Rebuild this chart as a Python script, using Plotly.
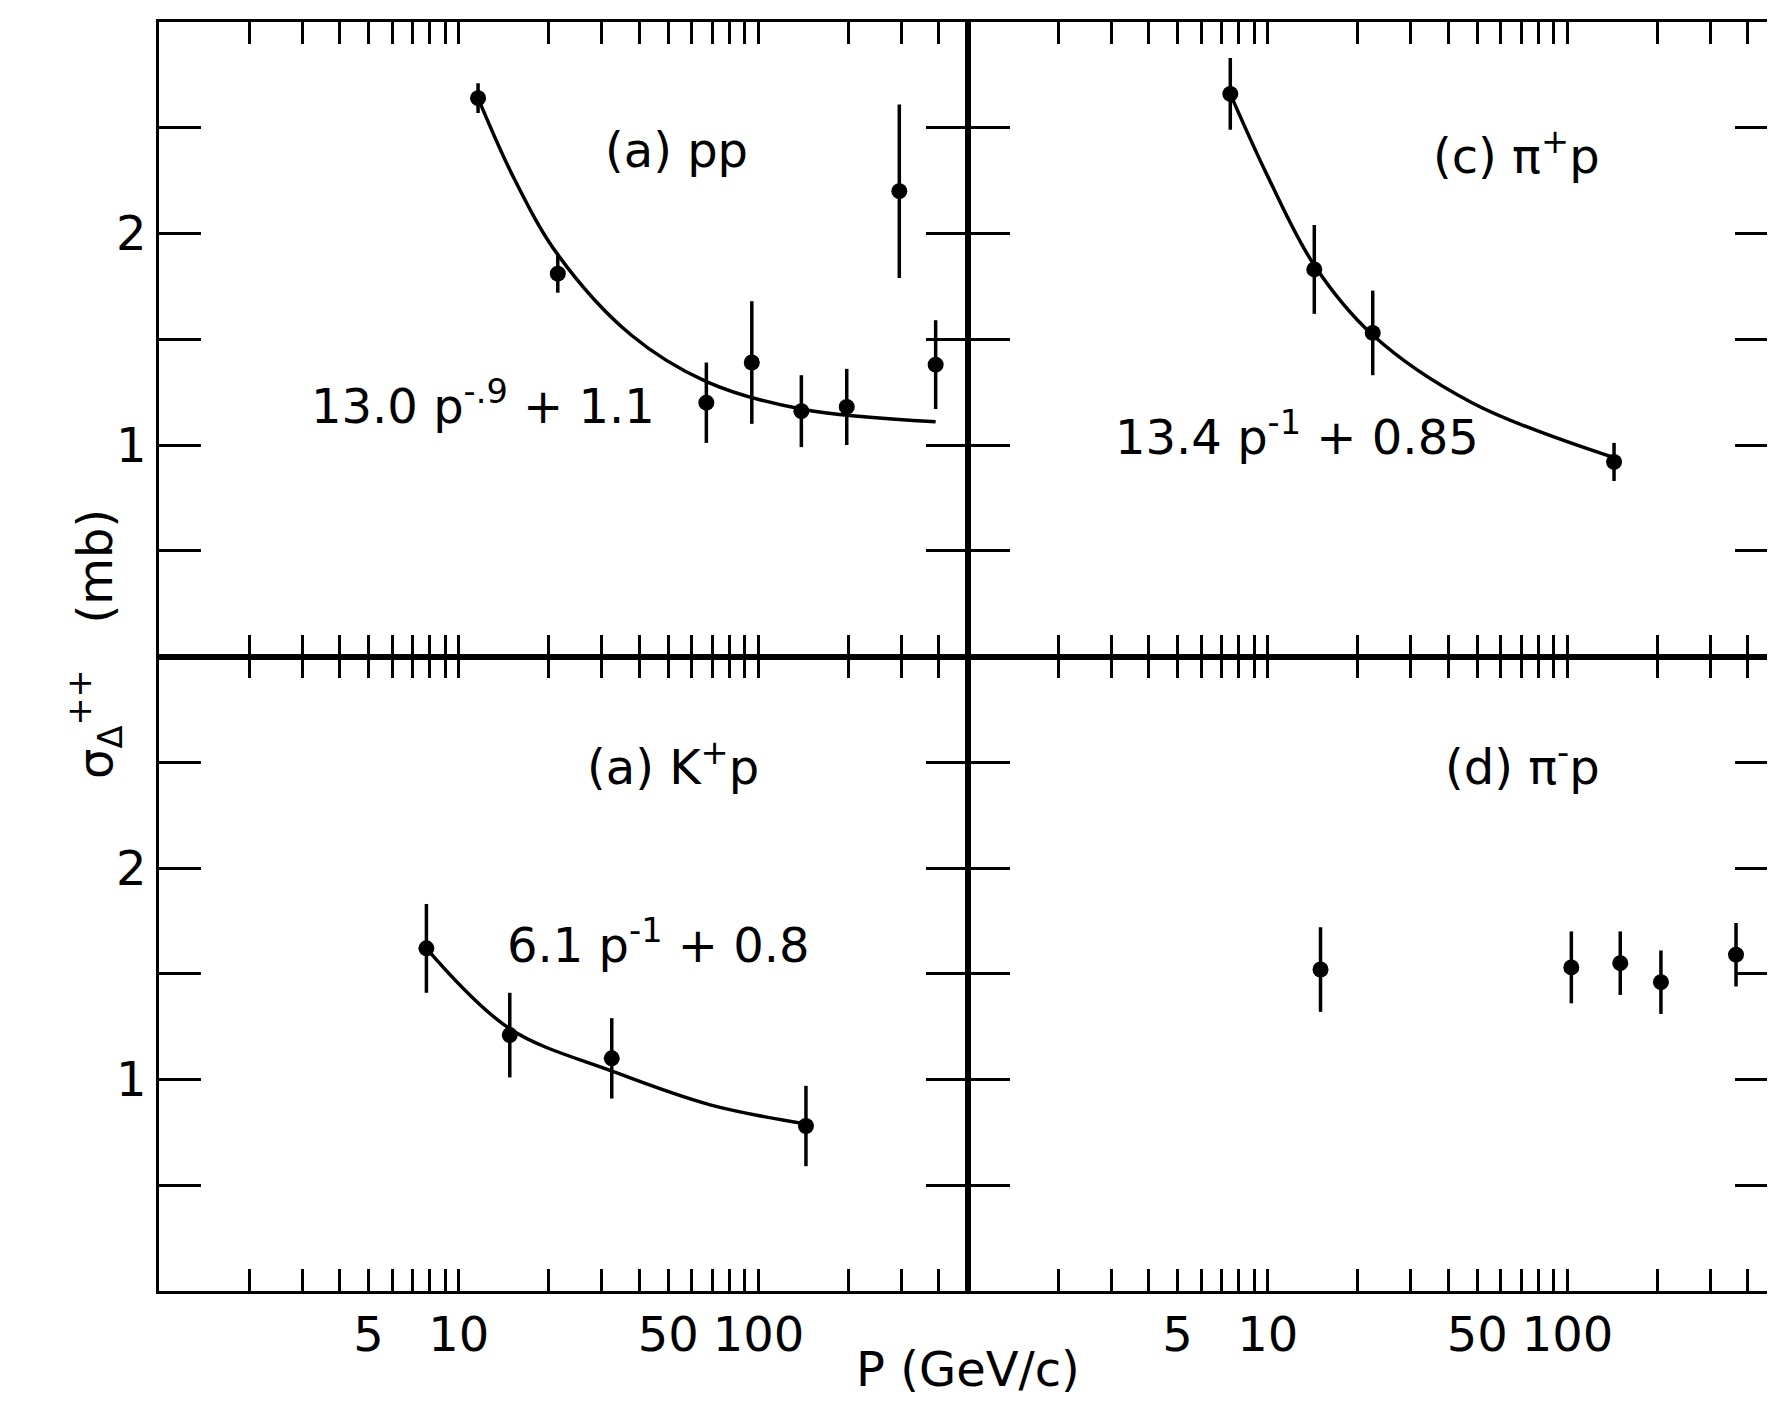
import plotly.graph_objects as go
from plotly.subplots import make_subplots

# (a) pp
pp_p = [11.6, 21.4, 67, 95, 139, 197, 295, 390]
pp_s = [2.64, 1.81, 1.20, 1.39, 1.16, 1.18, 2.20, 1.38]
pp_e = [0.07, 0.09, 0.19, 0.29, 0.17, 0.18, 0.41, 0.21]
pp_fit_p = [11.6, 15.3, 21.4, 37.6, 67, 139, 390]
pp_fit_s = [2.64, 2.26, 1.90, 1.52, 1.30, 1.17, 1.11]

# (c) pi+ p
pip_p = [7.5, 14.3, 22.4, 143]
pip_s = [2.66, 1.83, 1.53, 0.92]
pip_e = [0.17, 0.21, 0.20, 0.09]
pip_fit_p = [7.5, 10, 14.3, 22.4, 48, 143]
pip_fit_s = [2.66, 2.27, 1.85, 1.52, 1.20, 0.94]

# (b) K+ p
kp_p = [7.8, 14.8, 32.4, 144]
kp_s = [1.62, 1.21, 1.10, 0.78]
kp_e = [0.21, 0.20, 0.19, 0.19]
kp_fit_p = [7.8, 14.8, 32.4, 69, 144]
kp_fit_s = [1.62, 1.24, 1.04, 0.88, 0.79]

# (d) pi- p
pim_p = [15, 103, 150, 205, 365]
pim_s = [1.52, 1.53, 1.55, 1.46, 1.59]
pim_e = [0.20, 0.17, 0.15, 0.15, 0.15]

x_ticks = [2, 3, 4, 5, 6, 7, 8, 9, 10, 20, 30, 40, 50, 60, 70, 80, 90,
           100, 200, 300, 400]
x_labels = {5: "5", 10: "10", 50: "50", 100: "100"}
y_ticks = [0.5, 1, 1.5, 2, 2.5]
y_labels = {1: "1", 2: "2"}

FONT = "DejaVu Sans"
fig = make_subplots(rows=2, cols=2, horizontal_spacing=0, vertical_spacing=0)


def add_panel(p, s, e, row, col, fit_p=None, fit_s=None):
    if fit_p:
        fig.add_trace(go.Scatter(x=fit_p, y=fit_s, mode="lines",
                                 line=dict(color="black", width=3.5, shape="spline"),
                                 showlegend=False), row=row, col=col)
    fig.add_trace(go.Scatter(x=p, y=s, mode="markers",
                             marker=dict(color="black", size=16),
                             error_y=dict(type="data", array=e, color="black",
                                          thickness=3.5, width=0),
                             showlegend=False), row=row, col=col)


add_panel(pp_p, pp_s, pp_e, 1, 1, pp_fit_p, pp_fit_s)
add_panel(pip_p, pip_s, pip_e, 1, 2, pip_fit_p, pip_fit_s)
add_panel(kp_p, kp_s, kp_e, 2, 1, kp_fit_p, kp_fit_s)
add_panel(pim_p, pim_s, pim_e, 2, 2)

for r in (1, 2):
    for c in (1, 2):
        fig.update_xaxes(type="log", range=[0, 2.699], tickvals=x_ticks,
                         ticktext=[x_labels.get(v, "") if r == 2 else "" for v in x_ticks],
                         ticks="inside", ticklen=22, tickwidth=3, tickcolor="black",
                         showline=True, linewidth=2.5, linecolor="black", mirror="allticks",
                         showgrid=False, zeroline=False,
                         tickfont=dict(size=48, color="black", family=FONT),
                         row=r, col=c)
        fig.update_yaxes(range=[0, 3], tickvals=y_ticks,
                         ticktext=[y_labels.get(v, "") if c == 1 else "" for v in y_ticks],
                         ticks="inside", ticklen=42, tickwidth=3, tickcolor="black",
                         showline=True, linewidth=2.5, linecolor="black", mirror="allticks",
                         showgrid=False, zeroline=False,
                         tickfont=dict(size=48, color="black", family=FONT),
                         row=r, col=c)

labels = [
    ("x domain", "y domain", 0.73, 0.845, "(a) pp"),
    ("x domain", "y domain", 0.40, 0.40, "13.0 p<sup>-.9</sup> + 1.1"),
    ("x2 domain", "y2 domain", 0.784, 0.845, "(c) π<sup>+</sup>p"),
    ("x2 domain", "y2 domain", 0.407, 0.35, "13.4 p<sup>-1</sup> + 0.85"),
    ("x3 domain", "y3 domain", 0.744, 0.883, "(a) K<sup>+</sup>p"),
    ("x3 domain", "y3 domain", 0.618, 0.55, "6.1 p<sup>-1</sup> + 0.8"),
    ("x4 domain", "y4 domain", 0.784, 0.883, "(d) π<sup>-</sup>p"),
]
for xr, yr, x, y, t in labels:
    fig.add_annotation(xref=xr, yref=yr, x=x, y=y, text=t, showarrow=False,
                       font=dict(size=48, color="black", family=FONT))

fig.add_annotation(xref="paper", yref="paper", x=-0.062, y=0.51, textangle=-90,
                   text="σ<sub>Δ</sub><sup>++</sup>   (mb)", showarrow=False,
                   font=dict(size=48, color="black", family=FONT))
fig.add_annotation(xref="paper", yref="paper", x=0.5, y=-0.085,
                   text="P (GeV/c)", showarrow=False,
                   font=dict(size=48, color="black", family=FONT))

fig.update_layout(width=1775, height=1420, plot_bgcolor="white", paper_bgcolor="white",
                  margin=dict(l=151, r=3, t=14, b=137))
fig.write_html("out.html")
